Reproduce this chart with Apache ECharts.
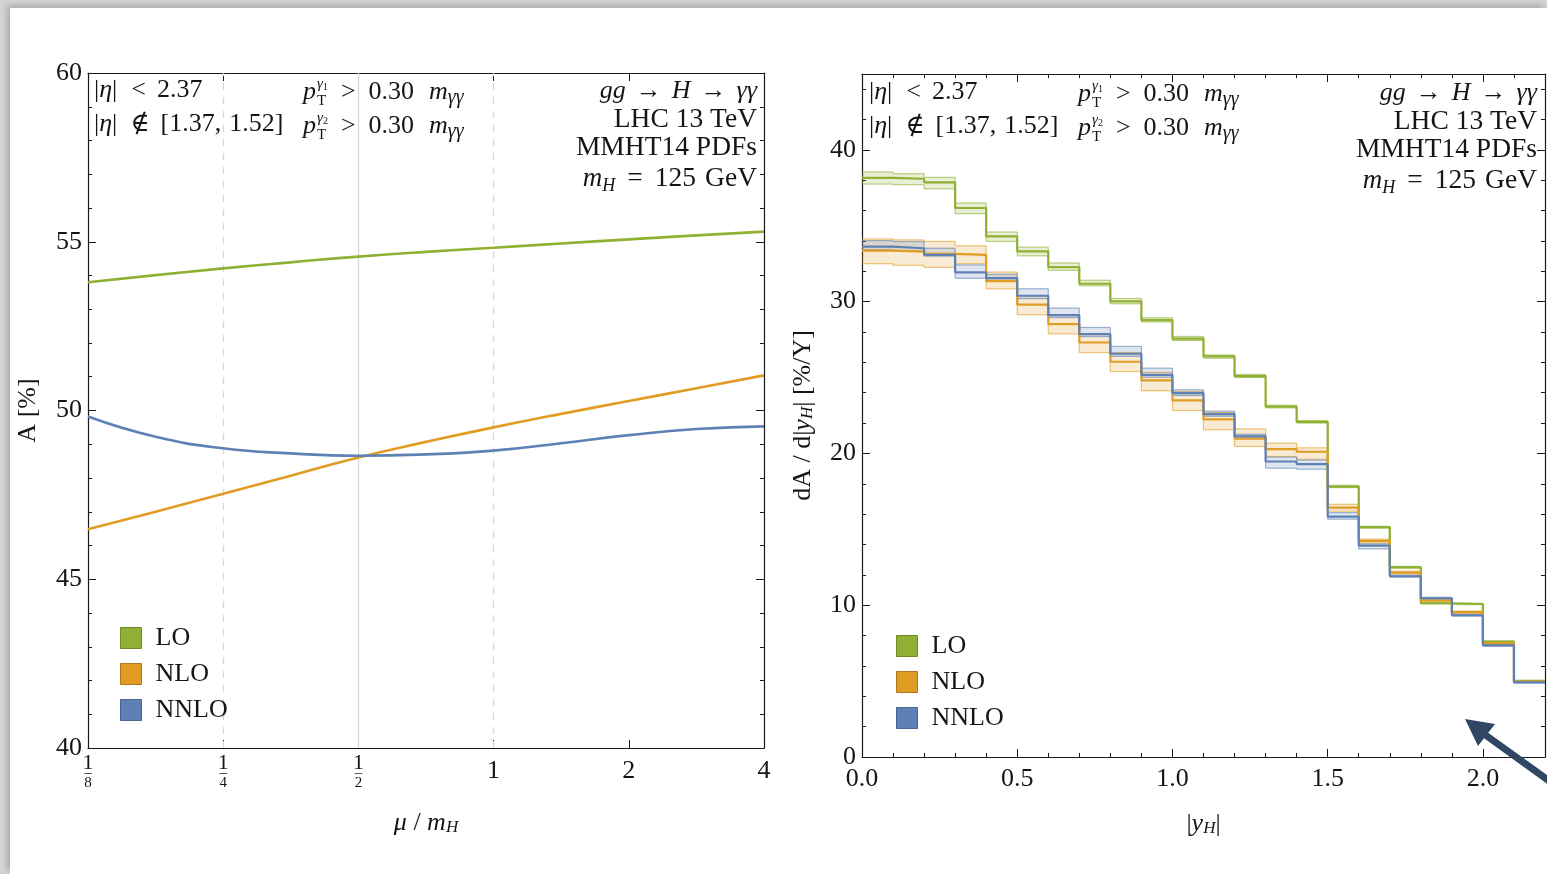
<!DOCTYPE html>
<html>
<head>
<meta charset="utf-8">
<script src="https://cdn.jsdelivr.net/npm/echarts@6/dist/echarts.min.js"></script>
<style>
  html, body { margin:0; padding:0; width:1547px; height:874px; overflow:hidden; background:#d5d6d8; }
  #panel { position:absolute; left:10px; top:8px; right:0; bottom:0; background:#ffffff; box-shadow:-3px -3px 7px rgba(0,0,0,0.22); }
  #chart { position:absolute; left:0; top:0; width:1547px; height:874px; }
</style>
</head>
<body>
<div id="panel"></div>
<div id="chart"></div>
<script>
// ---------------- data: left panel (A vs mu/mH, log2 scale) ----------------
const muLog2   = [-3, -2.5, -2, -1.5, -1, -0.5, 0, 0.5, 1, 1.5, 2];
const accLO    = [53.80, 54.01, 54.21, 54.39, 54.56, 54.70, 54.82, 54.95, 55.07, 55.19, 55.30];
const accNLO   = [46.48, 47.00, 47.53, 48.07, 48.61, 49.07, 49.50, 49.90, 50.28, 50.66, 51.04];
const accNNLO  = [49.82, 49.22, 48.88, 48.73, 48.66, 48.70, 48.81, 49.03, 49.27, 49.45, 49.53];
const muTickLabels = ['1/8', '1/4', '1/2', '1', '2', '4'];
const guideLog2 = [-2, -1, 0];
const guideDashed = [true, false, true];

// ---------------- data: right panel (dA/d|yH| histogram) ----------------
const yEdges = [0.0,0.1,0.2,0.3,0.4,0.5,0.6,0.7,0.8,0.9,1.0,1.1,1.2,1.3,1.4,1.5,1.6,1.7,1.8,1.9,2.0,2.1,2.2];
const loC   = [38.15,38.10,37.86,36.17,34.30,33.31,32.28,31.18,30.02,28.78,27.57,26.39,25.10,23.09,22.08,17.82,15.14,12.50,10.13,10.08,7.60,5.01];
const loLo  = [37.75,37.71,37.44,35.80,33.97,33.02,32.06,31.05,29.86,28.66,27.44,26.27,25.00,23.00,22.00,17.75,15.08,12.45,10.09,10.04,7.56,4.98];
const loHi  = [38.54,38.43,38.19,36.50,34.59,33.59,32.55,31.41,30.21,28.94,27.71,26.49,25.20,23.18,22.16,17.90,15.20,12.56,10.17,10.12,7.64,5.04];
const nloC  = [33.36,33.30,33.15,33.08,31.35,29.80,28.52,27.31,26.04,24.81,23.49,22.24,20.98,20.28,20.11,16.43,14.24,12.15,10.31,9.54,7.49,4.97];
const nloLo = [32.50,32.40,32.26,32.50,30.85,29.14,27.88,26.65,25.40,24.13,22.83,21.56,20.46,19.80,19.62,16.20,14.10,12.05,10.25,9.45,7.42,4.93];
const nloHi = [34.13,34.07,33.97,33.68,31.95,30.40,29.11,27.86,26.65,25.34,24.08,22.70,21.62,20.68,20.37,16.65,14.35,12.25,10.40,9.62,7.55,5.00];
const nnloC  = [33.63,33.52,33.08,31.93,31.55,30.39,29.11,27.86,26.57,25.18,23.97,22.59,21.12,19.47,19.29,15.84,13.93,11.91,10.46,9.34,7.36,4.92];
const nnloLo = [33.41,33.34,33.00,31.54,31.40,30.20,28.95,27.70,26.40,25.02,23.82,22.45,20.98,19.03,18.96,15.67,13.71,11.85,10.40,9.28,7.31,4.88];
const nnloHi = [34.02,33.96,33.52,32.42,31.80,30.85,29.58,28.30,27.05,25.62,24.19,22.79,21.27,19.76,19.56,16.10,14.04,11.98,10.52,9.40,7.41,4.96];

const orderNames = ['LO', 'NLO', 'NNLO'];

// ---------------- styling ----------------
const FONT = '"Liberation Serif", "DejaVu Serif", serif';
const INK = '#151515';
const COL = { LO: '#8FB032', NLO: '#E19C24', NNLO: '#5E81B5' };
const COL_DARK = { LO: '#6f8a25', NLO: '#b07a1b', NNLO: '#486590' };

const mctx = document.createElement('canvas').getContext('2d');
function tw(t, size, it) { mctx.font = (it ? 'italic ' : '') + size + 'px ' + FONT; return mctx.measureText(t).width; }
function txt(x, y, t, size, it) {
  return { type: 'text', x: x, y: y, silent: true, z: 50,
    style: { text: t, fill: INK, font: (it ? 'italic ' : '') + size + 'px ' + FONT, align: 'left', verticalAlign: 'middle' } };
}
// pieces: {t, i, s, dy, gap} or {sup, supSub, sub, gap}
function mathLine(x, y, pieces, alignRight, baseSize) {
  const B = baseSize || 26;
  const widths = pieces.map(p => p.sup !== undefined
    ? Math.max(tw(p.sup, 15, true) + tw(p.supSub || '', 10, false), tw(p.sub, 15, false))
    : tw(p.t, p.s || B, p.i));
  const total = pieces.reduce((a, p, k) => a + (p.gap || 0) + widths[k], 0);
  let cx = alignRight ? x - total : x;
  const els = [];
  pieces.forEach((p, k) => {
    cx += p.gap || 0;
    if (p.sup !== undefined) {
      els.push(txt(cx + 1, y - 8, p.sup, 15, true));
      if (p.supSub) els.push(txt(cx + 1 + tw(p.sup, 15, true), y - 5, p.supSub, 10, false));
      els.push(txt(cx + 1, y + 9, p.sub, 15, false));
    } else {
      els.push(txt(cx, y + (p.dy || 0), p.t, p.s || B, p.i));
    }
    cx += widths[k];
  });
  return els;
}
function annotations(x0, y0, pX, rightX) {
  let els = [];
  els = els.concat(mathLine(x0, y0, [{t:'|'}, {t:'η', i:1}, {t:'|'}, {t:'<', gap:14}, {t:'2.37', gap:11}]));
  els = els.concat(mathLine(x0, y0 + 34, [{t:'|'}, {t:'η', i:1}, {t:'|'}, {t:'∉', gap:13}, {t:'[1.37,', gap:11}, {t:'1.52]', gap:8}]));
  [['γ', '1'], ['γ', '2']].forEach((g, k) => {
    els = els.concat(mathLine(pX, y0 + 34 * k + 2, [{t:'p', i:1}, {sup:g[0], supSub:g[1], sub:'T'},
      {t:'>', gap:14}, {t:'0.30', gap:13}, {t:'m', i:1, gap:15}, {t:'γγ', i:1, s:20, dy:6}]));
  });
  els = els.concat(mathLine(rightX, y0 + 1, [{t:'gg', i:1}, {t:'→', gap:10}, {t:'H', i:1, gap:10}, {t:'→', gap:10}, {t:'γγ', i:1, gap:10}], true));
  els = els.concat(mathLine(rightX, y0 + 30, [{t:'LHC 13 TeV'}], true, 27.5));
  els = els.concat(mathLine(rightX, y0 + 58, [{t:'MMHT14 PDFs'}], true, 27.5));
  els = els.concat(mathLine(rightX, y0 + 89, [{t:'m', i:1, s:27}, {t:'H', i:1, s:18, dy:7}, {t:'=', gap:12}, {t:'125', gap:12}, {t:'GeV', gap:9}], true, 27.5));
  return els;
}

function stepData(vals) {
  const pts = vals.map((v, k) => [yEdges[k], v]);
  pts.push([yEdges[vals.length], vals[vals.length - 1]]);
  return pts;
}
// band items: [x0, x1, lo, hi, prevLo, prevHi]
function bandData(lo, hi) {
  return lo.map((l, k) => [yEdges[k], yEdges[k + 1], l, hi[k], k > 0 ? lo[k - 1] : l, k > 0 ? hi[k - 1] : hi[k]]);
}
function bandRenderer(color) {
  return function (params, api) {
    const x0 = api.value(0), x1 = api.value(1), lo = api.value(2), hi = api.value(3), plo = api.value(4), phi = api.value(5);
    const tl = api.coord([x0, hi]), br = api.coord([x1, lo]);
    const pTop = api.coord([x0, phi])[1], pBot = api.coord([x0, plo])[1];
    const ls = { stroke: color, lineWidth: 1.2, opacity: 0.6 };
    return {
      type: 'group',
      children: [
        { type: 'rect', shape: { x: tl[0], y: tl[1], width: br[0] - tl[0], height: br[1] - tl[1] }, style: { fill: color, opacity: 0.2 } },
        { type: 'line', shape: { x1: tl[0], y1: tl[1], x2: br[0], y2: tl[1] }, style: ls },
        { type: 'line', shape: { x1: tl[0], y1: br[1], x2: br[0], y2: br[1] }, style: ls },
        { type: 'line', shape: { x1: tl[0], y1: pTop, x2: tl[0], y2: tl[1] }, style: ls },
        { type: 'line', shape: { x1: tl[0], y1: pBot, x2: tl[0], y2: br[1] }, style: ls }
      ]
    };
  };
}

const frameLine = { show: true, onZero: false, lineStyle: { color: '#1a1a1a', width: 1.2 } };
const tickIn = (len) => ({ show: true, inside: true, length: len, lineStyle: { color: '#1a1a1a', width: 1 } });
const minorIn = (n) => ({ show: true, splitNumber: n, length: 4, lineStyle: { color: '#1a1a1a', width: 1 } });
const labelFont = { fontFamily: FONT, fontSize: 26, color: INK };

const nameRich = {
  i: { fontFamily: FONT, fontSize: 26, fontStyle: 'italic', color: INK },
  s: { fontFamily: FONT, fontSize: 17, fontStyle: 'italic', color: INK, verticalAlign: 'bottom', lineHeight: 16 }
};

// ---------------- series ----------------
const series = [];
[['LO', accLO], ['NLO', accNLO], ['NNLO', accNNLO]].forEach(([name, arr], k) => {
  const s = {
    name: name, type: 'line', xAxisIndex: 0, yAxisIndex: 0, smooth: true, showSymbol: false, symbol: 'none',
    color: COL[name], lineStyle: { color: COL[name], width: 2.6 }, z: 5,
    data: muLog2.map((x, j) => [x, arr[j]])
  };
  if (k === 0) {
    s.markLine = {
      silent: true, symbol: 'none', label: { show: false }, z: 1,
      data: guideLog2.map((g, j) => ({ xAxis: g, lineStyle: { color: '#d6d6d6', width: 1.3, type: guideDashed[j] ? [7, 7] : 'solid' } }))
    };
  }
  series.push(s);
});

const hist = { LO: [loC, loLo, loHi], NLO: [nloC, nloLo, nloHi], NNLO: [nnloC, nnloLo, nnloHi] };
orderNames.forEach((name) => {
  const [c, lo, hi] = hist[name];
  series.push({
    name: name + ' band', type: 'custom', xAxisIndex: 2, yAxisIndex: 2, z: 3, silent: true,
    renderItem: bandRenderer(COL[name]),
    encode: { x: [0, 1], y: [2, 3] },
    data: bandData(lo, hi)
  });
});
orderNames.forEach((name) => {
  series.push({
    name: name, type: 'line', xAxisIndex: 2, yAxisIndex: 2, step: 'end', symbol: 'none', showSymbol: false, z: 6,
    color: COL[name], lineStyle: { color: COL[name], width: 2.2 }, data: stepData(hist[name][0])
  });
});

const legendData = orderNames.map(n => ({ name: n, icon: 'rect', itemStyle: { color: COL[n], borderColor: COL_DARK[n], borderWidth: 1 } }));
const legendBase = {
  orient: 'vertical', itemWidth: 21, itemHeight: 21, itemGap: 12, icon: 'rect', selectedMode: false,
  data: legendData, textStyle: { fontFamily: FONT, fontSize: 26, color: INK, lineHeight: 24, padding: [0, 0, 0, 9] }
};

// ---------------- option ----------------
const chart = echarts.init(document.getElementById('chart'), null, { renderer: 'canvas' });
const option = {
  backgroundColor: 'transparent',
  animation: false,
  textStyle: { fontFamily: FONT },
  grid: [
    { left: 88, top: 73, width: 676, height: 675 },
    { left: 862, top: 74, width: 683, height: 683 }
  ],
  legend: [
    Object.assign({}, legendBase, { left: 115, top: 620, itemGap: 10 }),
    Object.assign({}, legendBase, { left: 891, top: 628, itemGap: 10 })
  ],
  xAxis: [
    { type: 'value', gridIndex: 0, position: 'bottom', min: -3, max: 2, interval: 1,
      axisLine: frameLine, axisTick: tickIn(8), splitLine: { show: false },
      axisLabel: { margin: 8, color: INK,
        formatter: function (v) {
          const lab = muTickLabels[Math.round(v) + 3];
          if (!lab) return '';
          if (lab.indexOf('/') > 0) { const p = lab.split('/'); return '{n|' + p[0] + '}\n{bar|–}\n{d|' + p[1] + '}'; }
          return '{w|' + lab + '}';
        },
        rich: {
          n: { fontFamily: FONT, fontSize: 22, lineHeight: 15, color: INK },
          bar: { fontFamily: FONT, fontSize: 15, lineHeight: 4, color: INK },
          d: { fontFamily: FONT, fontSize: 15, lineHeight: 16, color: INK },
          w: { fontFamily: FONT, fontSize: 26, lineHeight: 30, color: INK }
        } },
      name: '{i|μ} / {i|m}{s|H}', nameLocation: 'middle', nameGap: 62,
      nameTextStyle: { fontFamily: FONT, fontSize: 26, color: INK, rich: nameRich } },
    { type: 'value', gridIndex: 0, position: 'top', min: -3, max: 2, interval: 1,
      axisLine: frameLine, axisTick: tickIn(8), axisLabel: { show: false }, splitLine: { show: false } },
    { type: 'value', gridIndex: 1, position: 'bottom', min: 0, max: 2.2, interval: 0.5,
      axisLine: frameLine, axisTick: tickIn(8), minorTick: minorIn(5), splitLine: { show: false },
      axisLabel: Object.assign({ margin: 9, showMaxLabel: false, formatter: v => v.toFixed(1) }, labelFont),
      name: '|{i|y}{s|H}|', nameLocation: 'middle', nameGap: 54,
      nameTextStyle: { fontFamily: FONT, fontSize: 26, color: INK, rich: nameRich } },
    { type: 'value', gridIndex: 1, position: 'top', min: 0, max: 2.2, interval: 0.5,
      axisLine: frameLine, axisTick: tickIn(8), minorTick: minorIn(5), axisLabel: { show: false }, splitLine: { show: false } }
  ],
  yAxis: [
    { type: 'value', gridIndex: 0, position: 'left', min: 40, max: 60, interval: 5,
      axisLine: frameLine, axisTick: tickIn(8), minorTick: minorIn(5), splitLine: { show: false },
      axisLabel: Object.assign({ margin: 6 }, labelFont),
      name: 'A [%]', nameLocation: 'middle', nameGap: 47,
      nameTextStyle: { fontFamily: FONT, fontSize: 26, color: INK } },
    { type: 'value', gridIndex: 0, position: 'right', min: 40, max: 60, interval: 5,
      axisLine: frameLine, axisTick: tickIn(8), minorTick: minorIn(5), axisLabel: { show: false }, splitLine: { show: false } },
    { type: 'value', gridIndex: 1, position: 'left', min: 0, max: 45, interval: 10,
      axisLine: frameLine, axisTick: tickIn(8), minorTick: minorIn(5), splitLine: { show: false },
      axisLabel: Object.assign({ margin: 6, showMaxLabel: false }, labelFont),
      name: 'dA / d|{i|y}{s|H}| [%/Y]', nameLocation: 'middle', nameGap: 46,
      nameTextStyle: { fontFamily: FONT, fontSize: 26, color: INK, rich: nameRich } },
    { type: 'value', gridIndex: 1, position: 'right', min: 0, max: 45, interval: 10,
      axisLine: frameLine, axisTick: tickIn(8), minorTick: minorIn(5), axisLabel: { show: false }, splitLine: { show: false } }
  ],
  series: series,
  graphic: [].concat(
    annotations(94, 90, 303, 757),
    annotations(869, 92, 1078, 1537),
    [
      { type: 'line', silent: true, z: 60, shape: { x1: 1484, y1: 734, x2: 1570, y2: 796 }, style: { stroke: '#2f4763', lineWidth: 7 } },
      { type: 'polygon', silent: true, z: 61, shape: { points: [[1465, 719], [1478, 746], [1495, 724]] }, style: { fill: '#2f4763' } }
    ]
  )
};
chart.setOption(option);
</script>
</body>
</html>
